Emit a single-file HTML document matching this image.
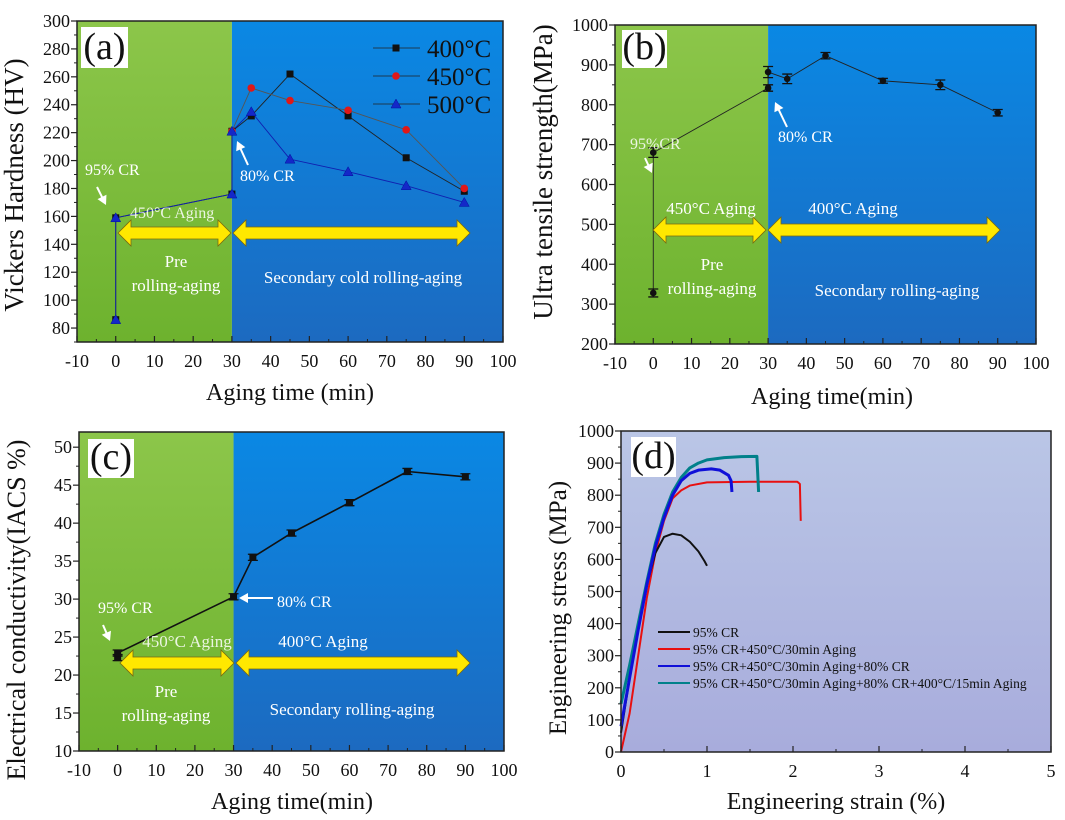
<!DOCTYPE html>
<html><head><meta charset="utf-8"><style>
body{margin:0;background:#fff}
svg{display:block;font-family:"Liberation Serif",serif}
</style></head><body>
<svg id="fig" width="1065" height="820" viewBox="0 0 1065 820" xmlns="http://www.w3.org/2000/svg">
<defs>
<linearGradient id="gG" x1="0" y1="0" x2="0" y2="1"><stop offset="0" stop-color="#8cc64a"/><stop offset="1" stop-color="#6db22e"/></linearGradient>
<linearGradient id="gB" x1="0" y1="0" x2="0" y2="1"><stop offset="0" stop-color="#0a88e4"/><stop offset="1" stop-color="#1c6ac0"/></linearGradient>
<linearGradient id="gP" x1="0" y1="0" x2="0" y2="1"><stop offset="0" stop-color="#bac6e6"/><stop offset="1" stop-color="#a8acdc"/></linearGradient>
</defs>
</svg>
<script>
// ---- data ----
const aX400=[0,0,30,30,35,45,60,75,90];
const aY400=[86,159,176,221,232,262,232,202,178];
const aX450=[30,35,45,60,75,90];
const aY450=[221,252,243,236,222,180];
const aX500=[0,0,30,30,35,45,60,75,90];
const aY500=[86,159,176,221,235,201,192,182,170];
const bX=[0,0,30,30,35,45,60,75,90];
const bY=[328,680,842,882,865,923,860,850,780];
const bErr=[10,12,8,14,12,8,6,12,8];
const cX=[0,0,30,35,45,60,75,90];
const cY=[22.3,22.9,30.3,35.5,38.7,42.7,46.8,46.1];
const dBlackX=[0,0.1,0.2,0.3,0.4,0.5,0.6,0.7,0.8,0.9,0.97,1.0];
const dBlackY=[60,230,400,520,620,670,680,675,655,625,595,580];
const dRedX=[0,0.1,0.2,0.3,0.4,0.5,0.6,0.7,0.8,1.0,1.5,2.05,2.08,2.09];
const dRedY=[0,120,300,480,620,720,790,815,830,840,842,842,835,720];
const dBlueX=[0,0.1,0.2,0.3,0.4,0.5,0.6,0.7,0.8,0.9,1.05,1.15,1.25,1.28,1.29];
const dBlueY=[80,230,380,520,640,730,800,845,868,878,882,878,862,845,810];
const dTealX=[0,0.1,0.2,0.3,0.4,0.5,0.6,0.7,0.8,0.9,1.0,1.2,1.4,1.58,1.6];
const dTealY=[150,270,400,530,650,740,810,855,885,900,910,917,920,921,810];
const timeTicks=[-10,0,10,20,30,40,50,60,70,80,90,100];
const aTicks=[80,100,120,140,160,180,200,220,240,260,280,300];
const bTicks=[200,300,400,500,600,700,800,900,1000];
const cTicks=[10,15,20,25,30,35,40,45,50];
const dXTicks=[0,1,2,3,4,5];
const dYTicks=[0,100,200,300,400,500,600,700,800,900,1000];

const svg=document.getElementById('fig');
const NS='http://www.w3.org/2000/svg';
function mk(tag,attrs,parent,name){const e=document.createElementNS(NS,tag);for(const k in attrs)e.setAttribute(k,attrs[k]);


(parent||svg).appendChild(e);return e;}
function txt(x,y,s,size,fill,anchor,name,extra){const t=mk('text',Object.assign({x:x,y:y,'font-size':size,fill:fill,'text-anchor':anchor||'start'},extra||{}),svg,name);t.textContent=s;return t;}
function axis(x0,x1,y0,y1,xmin,xmax,ymin,ymax){return{sx:v=>x0+(v-xmin)/(xmax-xmin)*(x1-x0),sy:v=>y1-(v-ymin)/(ymax-ymin)*(y1-y0),x0,x1,y0,y1};}
function frame(A,xt,yt,xminor,yminor,fmt){
  mk('rect',{x:A.x0,y:A.y0,width:A.x1-A.x0,height:A.y1-A.y0,fill:'none',stroke:'#222','stroke-width':1.5},svg,'plot-frame');
  xt.forEach((v,i)=>{const x=A.sx(v);mk('line',{x1:x,x2:x,y1:A.y1,y2:A.y1-6,stroke:'#222','stroke-width':1.2},svg,'x-tick');
    txt(x,A.y1+25,fmt?fmt(v):String(v),18,'#111','middle','x-tick-label');
    if(i<xt.length-1){const m=A.sx(v+xminor);mk('line',{x1:m,x2:m,y1:A.y1,y2:A.y1-3,stroke:'#222','stroke-width':1},svg,'x-minor-tick');}});
  yt.forEach((v,i)=>{const y=A.sy(v);mk('line',{x1:A.x0,x2:A.x0-6,y1:y,y2:y,stroke:'#222','stroke-width':1.2},svg,'y-tick');
    txt(A.x0-7,y+6,String(v),18,'#111','end','y-tick-label');
    const m=A.sy(v-yminor);if(m<=A.y1&&m>=A.y0)mk('line',{x1:A.x0,x2:A.x0-3,y1:m,y2:m,stroke:'#222','stroke-width':1},svg,'y-minor-tick');});
}
function bg(A,split){const xs=A.sx(split);
  mk('rect',{x:A.x0,y:A.y0,width:xs-A.x0,height:A.y1-A.y0,fill:'url(#gG)'},svg,'pre-aging-region');
  mk('rect',{x:xs,y:A.y0,width:A.x1-xs,height:A.y1-A.y0,fill:'url(#gB)'},svg,'secondary-aging-region');}
function line(A,X,Y,col,w,name){mk('polyline',{points:X.map((v,i)=>A.sx(v)+','+A.sy(Y[i])).join(' '),fill:'none',stroke:col,'stroke-width':w,'stroke-linejoin':'round'},svg,name);}
function dblArrow(x1,x2,y,name){const h=6,H=13,L=13;
  const p=[[x1,y],[x1+L,y-H],[x1+L,y-h],[x2-L,y-h],[x2-L,y-H],[x2,y],[x2-L,y+H],[x2-L,y+h],[x1+L,y+h],[x1+L,y+H]];
  mk('polygon',{points:p.map(q=>q.join(',')).join(' '),fill:'#ffe800',stroke:'#7a6a10','stroke-width':0.8},svg,name);}
function wArrow(x1,y1,x2,y2,name){const g=mk('g',{},svg,name);
  const dx=x2-x1,dy=y2-y1,l=Math.hypot(dx,dy),ux=dx/l,uy=dy/l;
  mk('line',{x1:x1,y1:y1,x2:x2-ux*7,y2:y2-uy*7,stroke:'#fff','stroke-width':2},g,'arrow-shaft');
  mk('polygon',{points:[x2,y2,x2-ux*9-uy*5,y2-uy*9+ux*5,x2-ux*9+uy*5,y2-uy*9-ux*5].join(','),fill:'#fff'},g,'arrow-head');}
function label(x,y,w,h,s){mk('rect',{x:x,y:y,width:w,height:h,fill:'#fff'},svg,'panel-label-box');txt(x+w/2,y+h-9,s,38,'#111','middle','panel-label');}
function sq(x,y,c,n){mk('rect',{x:x-3.5,y:y-3.5,width:7,height:7,fill:c},svg,n);}
function circ(x,y,c,n,r){mk('circle',{cx:x,cy:y,r:r||3.8,fill:c},svg,n);}
function tri(x,y,c,n){mk('polygon',{points:[x,y-5,x-5,y+4,x+5,y+4].join(','),fill:c,stroke:'#0010a0','stroke-width':0.5},svg,n);}
function err(A,x,y,e,n){const X=A.sx(x);mk('path',{d:`M${X-5},${A.sy(y+e)}H${X+5}M${X},${A.sy(y+e)}V${A.sy(y-e)}M${X-5},${A.sy(y-e)}H${X+5}`,stroke:'#111','stroke-width':1.3,fill:'none'},svg,n);}

// ---- panel a ----
let A=axis(77,503,21,342,-10,100,70,300);
bg(A,30);
line(A,aX400,aY400,'#222',0.9,'series-400c-line');
line(A,aX450,aY450,'#555',0.9,'series-450c-line');
line(A,aX500,aY500,'#1020b0',0.9,'series-500c-line');
aX400.forEach((v,i)=>sq(A.sx(v),A.sy(aY400[i]),'#111','marker-400c'));
aX450.forEach((v,i)=>circ(A.sx(v),A.sy(aY450[i]),'#e01818','marker-450c'));
aX500.forEach((v,i)=>tri(A.sx(v),A.sy(aY500[i]),'#1428c8','marker-500c'));
frame(A,timeTicks,aTicks,5,10);
label(81,27,47,41,'(a)');
[['400°C','#111','sq'],['450°C','#e01818','c'],['500°C','#1428c8','t']].forEach((L,i)=>{const y=48+i*28;
  mk('line',{x1:373,x2:420,y1:y,y2:y,stroke:'#222','stroke-width':0.8},svg,'legend-line');
  if(L[2]=='sq')sq(396,y,L[1],'legend-marker');else if(L[2]=='c')circ(396,y,L[1],'legend-marker');else tri(396,y,L[1],'legend-marker');
  txt(427,y+9,L[0],25,'#111','start','legend-entry');});
dblArrow(118,231,233,'pre-aging-arrow');dblArrow(233,470,233,'secondary-aging-arrow');
txt(85,175,'95% CR',16,'#fff','start','annotation-95cr');wArrow(97,187,106,205,'arrow-95cr');
txt(130,218,'450°C Aging',16,'#fff','start','annotation-450c-aging',{'fill-opacity':0.85});
txt(176,267,'Pre',17,'#fff','middle','pre-label');txt(176,291,'rolling-aging',17,'#fff','middle','pre-label-2');
txt(363,283,'Secondary cold rolling-aging',17,'#fff','middle','secondary-label');
txt(240,181,'80% CR',16,'#fff','start','annotation-80cr');wArrow(248,165,237,141,'arrow-80cr');
txt(23,185,'Vickers Hardness (HV)',27,'#111','middle','y-axis-title',{transform:'rotate(-90 23 185)'});
txt(290,400,'Aging time (min)',24,'#111','middle','x-axis-title');

// ---- panel b ----
A=axis(615,1036,25,344,-10,100,200,1000);
bg(A,30);
line(A,bX,bY,'#222',0.9,'uts-line');
bX.forEach((v,i)=>{err(A,v,bY[i],bErr[i],'error-bar');circ(A.sx(v),A.sy(bY[i]),'#111','uts-marker',3.3);});
frame(A,timeTicks,bTicks,5,50);
label(622,30,45,38,'(b)');
dblArrow(653,766,230,'pre-aging-arrow');dblArrow(768,1000,230,'secondary-aging-arrow');
txt(630,149,'95%CR',16,'#fff','start','annotation-95cr',{'fill-opacity':0.85});wArrow(645,158,652,173,'arrow-95cr');
txt(778,142,'80% CR',16,'#fff','start','annotation-80cr');wArrow(787,127,775,102,'arrow-80cr');
txt(711,214,'450°C Aging',17,'#fff','middle','annotation-450c-aging');
txt(853,214,'400°C Aging',17,'#fff','middle','annotation-400c-aging');
txt(712,270,'Pre',17,'#fff','middle','pre-label');txt(712,294,'rolling-aging',17,'#fff','middle','pre-label-2');
txt(897,296,'Secondary rolling-aging',17,'#fff','middle','secondary-label');
txt(552,172,'Ultra tensile strength(MPa)',27,'#111','middle','y-axis-title',{transform:'rotate(-90 552 172)'});
txt(832,404,'Aging time(min)',24,'#111','middle','x-axis-title');

// ---- panel c ----
A=axis(79,504,432,751,-10,100,10,52);
bg(A,30);
line(A,cX,cY,'#111',1.6,'conductivity-line');
cX.forEach((v,i)=>{err(A,v,cY[i],0.4,'error-bar');sq(A.sx(v),A.sy(cY[i]),'#111','conductivity-marker');});
frame(A,timeTicks,cTicks,5,2.5);
label(88,439,46,39,'(c)');
dblArrow(120,234,663,'pre-aging-arrow');dblArrow(236,470,663,'secondary-aging-arrow');
txt(98,613,'95% CR',16,'#fff','start','annotation-95cr');wArrow(103,625,110,641,'arrow-95cr');
txt(187,647,'450°C Aging',17,'#fff','middle','annotation-450c-aging',{'fill-opacity':0.85});
txt(323,647,'400°C Aging',17,'#fff','middle','annotation-400c-aging');
txt(166,697,'Pre',17,'#fff','middle','pre-label');txt(166,721,'rolling-aging',17,'#fff','middle','pre-label-2');
txt(352,715,'Secondary rolling-aging',17,'#fff','middle','secondary-label');
txt(277,607,'80% CR',16,'#fff','start','annotation-80cr');wArrow(273,598,239,598,'arrow-80cr');
txt(25,610,'Electrical conductivity(IACS %)',26,'#111','middle','y-axis-title',{transform:'rotate(-90 25 610)'});
txt(292,809,'Aging time(min)',24,'#111','middle','x-axis-title');

// ---- panel d ----
A=axis(621,1051,431,752,0,5,0,1000);
mk('rect',{x:A.x0,y:A.y0,width:A.x1-A.x0,height:A.y1-A.y0,fill:'url(#gP)'},svg,'plot-background');
line(A,dRedX,dRedY,'#e81010',2,'curve-95cr-450c');
line(A,dBlackX,dBlackY,'#111',2,'curve-95cr');
line(A,dTealX,dTealY,'#00808a',3,'curve-full-process');
line(A,dBlueX,dBlueY,'#1010d8',3,'curve-95cr-450c-80cr');
line(A,dTealX.slice(10),dTealY.slice(10),'#00808a',2,'curve-full-process-top');
frame(A,dXTicks,dYTicks,0.5,50);
label(631,437,45,40,'(d)');
[['95% CR','#111'],['95% CR+450°C/30min Aging','#e81010'],['95% CR+450°C/30min Aging+80% CR','#1010d8'],['95% CR+450°C/30min Aging+80% CR+400°C/15min Aging','#00808a']].forEach((L,i)=>{const y=632+i*17;
  mk('line',{x1:658,x2:690,y1:y,y2:y,stroke:L[1],'stroke-width':2},svg,'legend-line');
  txt(693,y+5,L[0],13.5,'#111','start','legend-entry');});
txt(566,608,'Engineering stress (MPa)',25,'#111','middle','y-axis-title',{transform:'rotate(-90 566 608)'});
txt(836,809,'Engineering strain (%)',24,'#111','middle','x-axis-title');
</script>
</body></html>
